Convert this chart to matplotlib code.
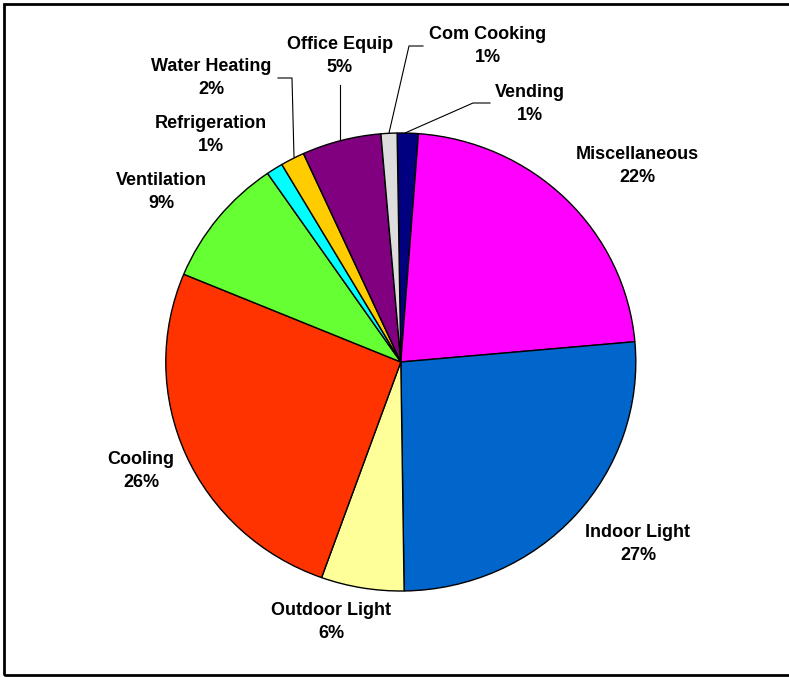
import matplotlib.pyplot as plt
from matplotlib.patches import Rectangle

# end-use shares, clockwise from the top
labels = ["Vending", "Miscellaneous", "Indoor Light", "Outdoor Light", "Cooling",
          "Ventilation", "Refrigeration", "Water Heating", "Office Equip", "Com Cooking"]
shares = [1.45, 22.4, 26.2, 5.7, 25.8, 9.15, 1.15, 1.65, 5.45, 1.1]
pct_text = ["1%", "22%", "27%", "6%", "26%", "9%", "1%", "2%", "5%", "1%"]
colors = ["#000080", "#FF00FF", "#0066CC", "#FFFF99", "#FF3300",
          "#66FF33", "#00FFFF", "#FFCC00", "#800080", "#DDDDDD"]

# pie geometry in pixels (slightly wider than tall, like the original)
W, H = 789, 677
cx, cy, rx, ry = 400.8, 362.0, 235.0, 229.0


def px(x, y):
    return (x - cx) / rx, (cy - y) / ry


# label centres in pixels
label_pos = [(530, 104), (637, 166), (638, 544), (331, 622), (141, 471),
             (161, 192), (211, 135), (211, 78), (340, 56), (488, 46)]

# leader lines for the thin slices, in pixels
leaders = {
    "Vending": [(490, 103), (473, 103), (405, 133)],
    "Com Cooking": [(423, 46), (409, 46), (389, 133)],
    "Office Equip": [(340, 85), (340, 139)],
    "Water Heating": [(278, 78), (292, 78), (294, 157)],
}

fig = plt.figure(figsize=(W / 100, H / 100), dpi=100)
ax = fig.add_axes([0, 0, 1, 1])

ax.pie(shares, colors=colors, startangle=90.9, counterclock=False,
       wedgeprops=dict(edgecolor="black", linewidth=1.0))

ax.set_aspect("auto")
x0, y0 = px(0, H)
x1, y1 = px(W, 0)
ax.set_xlim(x0, x1)
ax.set_ylim(y0, y1)
ax.axis("off")

for name, pct, (lx, ly) in zip(labels, pct_text, label_pos):
    x, y = px(lx, ly)
    ax.text(x, y, name + "\n" + pct, ha="center", va="center",
            fontsize=13, fontweight="bold", family="Liberation Sans",
            linespacing=1.45)

for name, pts in leaders.items():
    xs, ys = zip(*[px(a, b) for a, b in pts])
    ax.plot(xs, ys, color="black", linewidth=0.8)

# outer frame, open on the right like the cropped original
fig.patches.append(Rectangle((4 / W, 2 / H), 1.2, (H - 6) / H, transform=fig.transFigure,
                             fill=False, edgecolor="black", linewidth=2))

fig.savefig("out.png", dpi=100)
